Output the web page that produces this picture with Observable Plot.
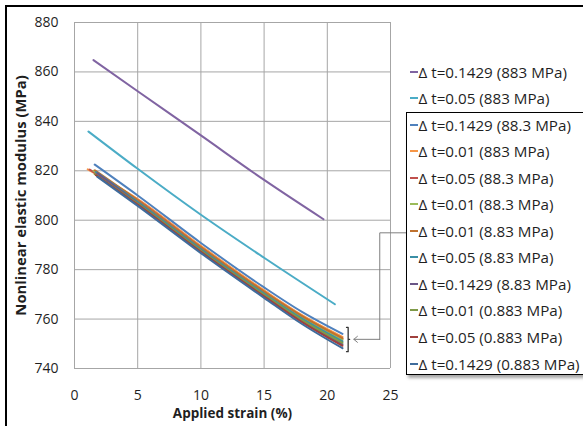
<!DOCTYPE html>
<html>
<head>
<meta charset="utf-8">
<script src="https://cdn.jsdelivr.net/npm/d3@7"></script>
<script src="https://cdn.jsdelivr.net/npm/@observablehq/plot@0.6"></script>
<style>
  html, body { margin: 0; padding: 0; background: #fff; }
  body { width: 583px; height: 426px; position: relative; overflow: hidden; font-family: "Open Sans", sans-serif; }
  #chart { position: absolute; left: 0; top: 0; }
  #frame { position: absolute; left: 5px; top: 5px; width: 700px; height: 600px; border-left: 2.5px solid #000; border-top: 2.5px solid #000; }
  #legendBox { position: absolute; left: 406px; top: 112px; width: 200px; height: 261px; border: 1.5px solid #000; box-shadow: 2px 3px 3px rgba(0,0,0,0.35); background: #fff; }
  .entry { position: absolute; left: 410px; height: 22px; display: flex; align-items: center; font-size: 15.2px; color: #1f1f1f; white-space: nowrap; }
  .entry .sw { width: 8px; height: 2px; margin-right: 0.5px; }
</style>
</head>
<body>
<div id="chart"></div>
<div id="frame"></div>
<div id="legendBox"></div>
<div id="legend"></div>
<script>
// ---- data ----
const seriesNames = [
  "Δ t=0.1429 (883 MPa)",
  "Δ t=0.05 (883 MPa)",
  "Δ t=0.1429 (88.3 MPa)",
  "Δ t=0.01 (883 MPa)",
  "Δ t=0.05 (88.3 MPa)",
  "Δ t=0.01 (88.3 MPa)",
  "Δ t=0.01 (8.83 MPa)",
  "Δ t=0.05 (8.83 MPa)",
  "Δ t=0.1429 (8.83 MPa)",
  "Δ t=0.01 (0.883 MPa)",
  "Δ t=0.05 (0.883 MPa)",
  "Δ t=0.1429 (0.883 MPa)"
];
const seriesColors = [
  "#8064A2", "#4BACC6", "#4F81BD", "#F79646", "#C0504D", "#9BBB59",
  "#C0722E", "#3A8FA5", "#6A5687", "#7F9A48", "#A0403D", "#3F6C9C"
];
const strainValues = [
  [1.5, 5, 10, 15, 19.7],
  [1.1, 5, 10, 15, 20.6],
  [1.6, 5, 10, 15, 18, 21.2],
  [1.05, 5, 10, 15, 18, 21.2],
  [1.2, 5, 10, 15, 18, 21.2],
  [1.5, 5, 10, 15, 18, 21.2],
  [1.6, 5, 10, 15, 18, 21.2],
  [1.7, 5, 10, 15, 18, 21.2],
  [1.8, 5, 10, 15, 18, 21.2],
  [1.6, 5, 10, 15, 18, 21.2],
  [1.7, 5, 10, 15, 18, 21.2],
  [1.8, 5, 10, 15, 18, 21.2]
];
const modulusValues = [
  [864.8, 852.2, 834.3, 816.3, 800.4],
  [835.9, 820.8, 802.2, 784.8, 766.0],
  [822.5, 810.0, 790.8, 772.8, 762.9, 754.0],
  [820.6, 808.6, 789.6, 771.6, 761.6, 752.8],
  [820.5, 808.1, 789.0, 771.0, 761.0, 752.0],
  [820.0, 807.8, 788.7, 770.7, 760.7, 751.6],
  [820.2, 808.0, 789.0, 771.1, 761.2, 752.3],
  [819.5, 807.4, 788.3, 770.3, 760.2, 751.0],
  [819.0, 806.9, 787.8, 769.6, 759.3, 749.8],
  [818.6, 806.7, 787.7, 769.8, 759.6, 750.4],
  [818.2, 806.3, 787.2, 769.2, 758.8, 749.2],
  [817.6, 805.8, 786.7, 768.6, 758.0, 748.2]
];
const xTicks = [0, 5, 10, 15, 20, 25];
const yTicks = [740, 760, 780, 800, 820, 840, 860, 880];
const xLabel = "Applied strain (%)";
const yLabel = "Nonlinear elastic modulus (MPa)";
// annotation (data units): bracket and connector to legend
const bracketX = [21.52, 21.65, 21.65, 21.77, 21.65, 21.65, 21.52];
const bracketY = [756.6, 756.6, 751.8, 751.8, 751.8, 746.8, 746.8];
const connectorX = [24.15, 24.15, 26.3];
const connectorY = [751.8, 794.9, 794.9];
const arrowFrom = [24.15, 751.8];
const arrowTo = [22.1, 751.8];

// ---- build rows ----
const rows = [];
seriesNames.forEach((name, i) => {
  strainValues[i].forEach((x, j) => rows.push({series: name, strain: x, modulus: modulusValues[i][j], order: i}));
});
const bracket = bracketX.map((x, i) => ({x, y: bracketY[i]}));
const connector = connectorX.map((x, i) => ({x, y: connectorY[i]}));

const chart = Plot.plot({
  width: 583,
  height: 426,
  marginLeft: 74,
  marginRight: 193,
  marginTop: 22,
  marginBottom: 58,
  style: {fontFamily: "Open Sans", fontSize: "14px", color: "#1f1f1f", background: "transparent"},
  x: {domain: [0, 25]},
  y: {domain: [740, 880]},
  color: {domain: seriesNames, range: seriesColors},
  marks: [
    Plot.ruleX(xTicks, {stroke: "#a6a6a6", strokeWidth: 1}),
    Plot.ruleY(yTicks, {stroke: "#a6a6a6", strokeWidth: 1}),
    Plot.axisX(xTicks, {tickSize: 0, tickPadding: 22, label: null, fontSize: 14}),
    Plot.axisY(yTicks, {tickSize: 0, tickPadding: 16, label: null, fontSize: 14}),
    Plot.text([xLabel], {frameAnchor: "bottom", dy: 49, fontWeight: "bold", fontSize: 13.5}),
    Plot.text([yLabel], {frameAnchor: "left", textAnchor: "middle", rotate: -90, dx: -53, fontWeight: "bold", fontSize: 14.8}),
    Plot.line(rows, {x: "strain", y: "modulus", z: "series", stroke: "series", strokeWidth: 2, curve: "monotone-x"}),
    Plot.line(bracket, {x: "x", y: "y", stroke: "#333", strokeWidth: 1.3}),
    Plot.line(connector, {x: "x", y: "y", stroke: "#7f7f7f", strokeWidth: 1}),
    Plot.arrow([{x1: arrowFrom[0], y1: arrowFrom[1], x2: arrowTo[0], y2: arrowTo[1]}],
      {x1: "x1", y1: "y1", x2: "x2", y2: "y2", stroke: "#7f7f7f", strokeWidth: 1, headLength: 7, headAngle: 80})
  ]
});
document.getElementById("chart").appendChild(chart);

// legend
const legend = document.getElementById("legend");
seriesNames.forEach((name, i) => {
  const e = document.createElement("div");
  e.className = "entry";
  e.style.top = (71.5 + i * 26.55 - 11) + "px";
  const sw = document.createElement("span");
  sw.className = "sw";
  sw.style.background = seriesColors[i];
  const t = document.createElement("span");
  t.textContent = name;
  e.appendChild(sw);
  e.appendChild(t);
  legend.appendChild(e);
});
</script>
</body>
</html>
